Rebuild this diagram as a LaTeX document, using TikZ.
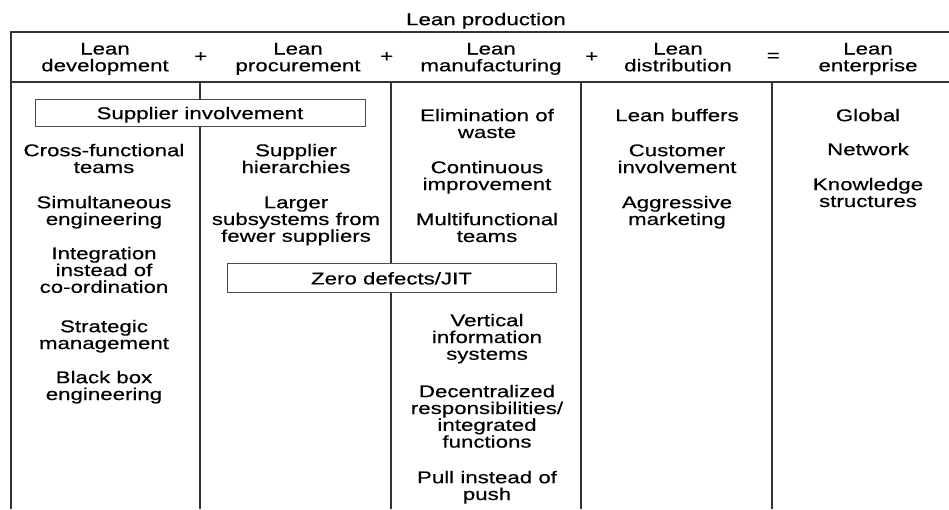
\documentclass[tikz,border=0pt]{standalone}
\usepackage{fontspec}
\setmainfont{Liberation Sans}[FakeStretch=1.31,FakeBold=0.4]
\newcommand{\fl}{\rule{0pt}{13pt}}
\begin{document}
\begin{tikzpicture}[x=1pt,y=-1pt,
  txt/.style={font=\fontsize{17}{16.8}\selectfont, inner sep=0pt, anchor=north, align=center, text=black},
  op/.style={font=\fontsize{17}{17}\selectfont, inner sep=0pt, text=black},
  gridline/.style={line width=1.3pt, draw=black!80},
  tbox/.style={draw=black!70, line width=1pt, fill=white, font=\fontsize{17}{17}\selectfont, text=black, text height=12.2pt, text depth=0pt, inner sep=0pt}]
\useasboundingbox (0,0) rectangle (949,509);
% frame
\coordinate (tl) at (11,32);
\coordinate (tr) at (949,32);
\coordinate (hl) at (11,82);
\coordinate (hr) at (949,82);
\coordinate (bl) at (11,509);
\draw[gridline] (tr) -- (tl) -- (bl);
\draw[gridline] (hl) -- (hr);
\foreach \x/\n in {200/a,391/b,581/c,772/d}{
  \coordinate (t\n) at (\x,82);
  \coordinate (b\n) at (\x,509);
  \draw[gridline] (t\n) -- (b\n);
}
% title
\node[txt] (title) at (486,12) {\fl Lean production};
% headers
\node[txt] (h1) at (105,41.3) {\fl Lean\\development};
\node[txt] (h2) at (298,41.3) {\fl Lean\\procurement};
\node[txt] (h3) at (491,41.3) {\fl Lean\\manufacturing};
\node[txt] (h4) at (678,41.3) {\fl Lean\\distribution};
\node[txt] (h5) at (868,41.3) {\fl Lean\\enterprise};
\node[op] (p1) at (200.7,57) {+};
\node[op] (p2) at (386.7,57) {+};
\node[op] (p3) at (591.7,57) {+};
\node[op] (eq) at (773.3,57) {=};
% column 1
\node[txt] (c1a) at (104,143) {\fl Cross-functional\\teams};
\node[txt] (c1b) at (104,195) {\fl Simultaneous\\engineering};
\node[txt] (c1c) at (104,246) {\fl Integration\\instead of\\co-ordination};
\node[txt] (c1d) at (104,319) {\fl Strategic\\management};
\node[txt] (c1e) at (104,370) {\fl Black box\\engineering};
% column 2
\node[txt] (c2a) at (296,143) {\fl Supplier\\hierarchies};
\node[txt] (c2b) at (296,195) {\fl Larger\\subsystems from\\fewer suppliers};
% column 3
\node[txt] (c3a) at (487,108) {\fl Elimination of\\waste};
\node[txt] (c3b) at (487,160) {\fl Continuous\\improvement};
\node[txt] (c3c) at (487,212) {\fl Multifunctional\\teams};
\node[txt] (c3d) at (487,313) {\fl Vertical\\information\\systems};
\node[txt] (c3e) at (487,384) {\fl Decentralized\\responsibilities/\\integrated\\functions};
\node[txt] (c3f) at (487,470) {\fl Pull instead of\\push};
% column 4
\node[txt] (c4a) at (677,108) {\fl Lean buffers};
\node[txt] (c4b) at (677,143) {\fl Customer\\involvement};
\node[txt] (c4c) at (677,195) {\fl Aggressive\\marketing};
% column 5
\node[txt] (c5a) at (868,108) {\fl Global};
\node[txt] (c5b) at (868,142) {\fl Network};
\node[txt] (c5c) at (868,177) {\fl Knowledge\\structures};
% spanning boxes
\node[tbox, minimum width=330pt, minimum height=27.5pt] (supp) at (200,113) {Supplier involvement};
\node[tbox, minimum width=329pt, minimum height=29pt] (zero) at (391.5,278.3) {Zero defects/JIT};
\end{tikzpicture}
\end{document}
